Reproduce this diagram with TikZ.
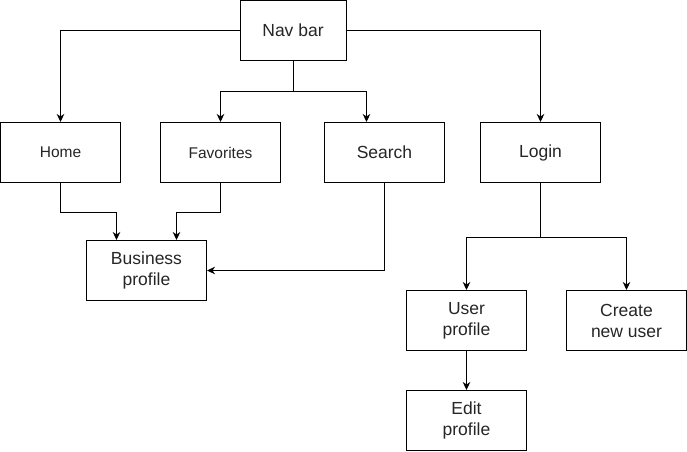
\documentclass[tikz,border=0pt]{standalone}
\usepackage{fontspec}
\setmainfont{Liberation Sans}
\usetikzlibrary{arrows.meta}
\begin{document}
\begin{tikzpicture}[x=1pt,y=-1pt,
  box/.style={draw=black, line width=1pt, fill=white, rectangle, inner sep=0pt,
    minimum width=120pt, minimum height=60pt, align=center,
    font=\fontsize{17.5}{21}\selectfont, text=black!85},
  smallbox/.style={box, font=\fontsize{15.5}{19}\selectfont},
  arr/.style={line width=1pt, -{Stealth[length=8pt,width=7.5pt,inset=2.5pt]}},
  ]
\useasboundingbox (0,0) rectangle (687,451);
\node[box, minimum width=106pt] (nav) at (293,30.5) {Nav bar};
\node[smallbox] (home) at (60.5,152.5) {Home};
\node[smallbox] (fav) at (220.5,152.5) {Favorites};
\node[box] (search) at (384.5,152.5) {Search};
\node[box] (login) at (540.5,152.5) {Login};
\node[box] (biz) at (146.5,270.5) {Business\\profile};
\node[box] (user) at (466.5,320.5) {User\\profile};
\node[box] (create) at (626.5,320.5) {Create\\new user};
\node[box] (edit) at (466.5,420.5) {Edit\\profile};

\draw[arr] (nav.west) -| (home.north);
\draw[arr] (nav.east) -| (login.north);
\draw[arr] (nav.south) -- ++(0,30) -| (fav.north);
\draw[arr] (nav.south) -- ++(0,30) -| ([xshift=-18pt]search.north);
\draw[arr] (home.south) -- ++(0,29) -| ([xshift=-30pt]biz.north);
\draw[arr] (fav.south) -- ++(0,29) -| ([xshift=30pt]biz.north);
\draw[arr] (search.south) |- (biz.east);
\draw[arr] (login.south) -- ++(0,54) -| (user.north);
\draw[arr] (login.south) -- ++(0,54) -| (create.north);
\draw[arr] (user.south) -- (edit.north);
\end{tikzpicture}
\end{document}
